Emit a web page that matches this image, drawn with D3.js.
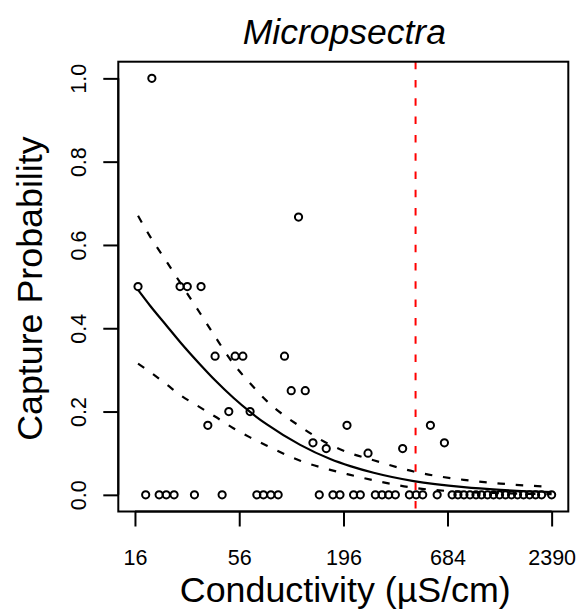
<!DOCTYPE html>
<html>
<head>
<meta charset="utf-8">
<script src="https://cdn.jsdelivr.net/npm/d3@7"></script>
<style>
  html, body { margin: 0; padding: 0; background: #ffffff; }
  svg { display: block; }
  text { font-family: "Liberation Sans", Arial, Helvetica, sans-serif; fill: #000; }
</style>
</head>
<body>
<svg id="chart" width="582" height="610"></svg>
<script>
// ---- data ----
const titleText = "Micropsectra";
const xLabel = "Conductivity (\u00B5S/cm)";
const yLabel = "Capture Probability";

const xTickValues = [16, 56, 196, 684, 2390];
const xTickLabels = ["16", "56", "196", "684", "2390"];
const yTickValues = [0, 0.2, 0.4, 0.6, 0.8, 1.0];
const yTickLabels = ["0.0", "0.2", "0.4", "0.6", "0.8", "1.0"];

// observed sites: conductivity and capture probability
const siteConductivity = [
  16.6, 19.6, 27.5, 30.0, 35.4, 38.4, 41.9, 49.4, 53.3, 58.5, 63.8,
  96.5, 104.6, 114.2, 123.8, 135.8, 159.3, 204.4, 263.2, 399, 557, 659,
  18.2, 21.4, 23.3, 25.6, 32.7, 45.6, 69.2, 74.9, 81.9, 89.4,
  146.5, 172.7, 187.9, 221.3, 239.9, 287.4, 311.5, 337.3, 365.6,
  432.6, 469.0, 507.7, 604, 723, 775, 833, 896, 963, 1029, 1106,
  1189, 1278, 1373, 1476, 1587, 1706, 1834, 1971, 2118, 2390
];
const captureProb = [
  0.5, 1.0, 0.5, 0.5, 0.5, 0.167, 0.333, 0.2, 0.333, 0.333, 0.2,
  0.333, 0.25, 0.667, 0.25, 0.125, 0.111, 0.167, 0.1, 0.111, 0.167, 0.125,
  0, 0, 0, 0, 0, 0, 0, 0, 0, 0,
  0, 0, 0, 0, 0, 0, 0, 0, 0,
  0, 0, 0, 0, 0, 0, 0, 0, 0, 0, 0,
  0, 0, 0, 0, 0, 0, 0, 0, 0, 0
];

// fitted curve and confidence band
const curveConductivity = [16.6, 19.2, 23.4, 27.5, 35.0, 41.9, 52.2, 63.8, 78.1, 116.5, 167.2, 212.7, 281.5, 455.5, 831.6, 1293, 2390];
const fitProb   = [0.492, 0.454, 0.406, 0.367, 0.313, 0.275, 0.233, 0.199, 0.169, 0.120, 0.086, 0.069, 0.053, 0.033, 0.0185, 0.012, 0.0065];
const upperProb = [0.670, 0.620, 0.560, 0.510, 0.436, 0.380, 0.315, 0.268, 0.225, 0.164, 0.120, 0.100, 0.083, 0.056, 0.036, 0.027, 0.019];
const lowerProb = [0.315, 0.295, 0.265, 0.240, 0.210, 0.188, 0.160, 0.138, 0.118, 0.082, 0.060, 0.048, 0.035, 0.017, 0.007, 0.004, 0.0015];

// threshold marker
const thresholdConductivity = 466;

// ---- drawing ----
const svg = d3.select("#chart");
const box = { left: 118.3, right: 568.3, top: 61.7, bottom: 511.5 };

const dataMin = d3.min(xTickValues), dataMax = d3.max(xTickValues);
const pad = Math.pow(dataMax / dataMin, 0.04);
const x = d3.scaleLog().domain([dataMin / pad, dataMax * pad]).range([box.left, box.right]);
const y = d3.scaleLinear().domain([-0.04, 1.04]).range([box.bottom, box.top]);

svg.append("defs").append("clipPath").attr("id", "plotclip")
  .append("rect").attr("x", box.left).attr("y", box.top)
  .attr("width", box.right - box.left).attr("height", box.bottom - box.top);

const plot = svg.append("g").attr("clip-path", "url(#plotclip)");

const curvePts = (vals) => curveConductivity.map((c, i) => [c, vals[i]]);
const line = d3.line().x(d => x(d[0])).y(d => y(d[1])).curve(d3.curveMonotoneX);

// threshold line
plot.append("line")
  .attr("x1", x(thresholdConductivity)).attr("x2", x(thresholdConductivity))
  .attr("y1", box.top).attr("y2", box.bottom)
  .attr("stroke", "#ff0000").attr("stroke-width", 2)
  .attr("stroke-dasharray", "7.5,10.8");

// points
plot.append("g").selectAll("circle")
  .data(siteConductivity.map((c, i) => [c, captureProb[i]]))
  .join("circle")
  .attr("cx", d => x(d[0])).attr("cy", d => y(d[1]))
  .attr("r", 3.6)
  .attr("fill", "none").attr("stroke", "#000").attr("stroke-width", 2);

// fit + band
plot.append("path").attr("d", line(curvePts(fitProb)))
  .attr("fill", "none").attr("stroke", "#000").attr("stroke-width", 2.2);
[upperProb, lowerProb].forEach(v => {
  plot.append("path").attr("d", line(curvePts(v)))
    .attr("fill", "none").attr("stroke", "#000").attr("stroke-width", 2.2)
    .attr("stroke-dasharray", "7.5,10.8");
});

// box
svg.append("rect")
  .attr("x", box.left).attr("y", box.top)
  .attr("width", box.right - box.left).attr("height", box.bottom - box.top)
  .attr("fill", "none").attr("stroke", "#000").attr("stroke-width", 2);

// x axis
const xAxis = d3.axisBottom(x).tickValues(xTickValues)
  .tickFormat((d, i) => xTickLabels[i]).tickSize(15).tickPadding(23);
const gx = svg.append("g").attr("transform", `translate(0,${box.bottom})`).call(xAxis);
gx.select(".domain").attr("d", `M${x(xTickValues[0])},0H${x(xTickValues[xTickValues.length - 1])}`)
  .attr("stroke", "#000").attr("stroke-width", 2);
gx.selectAll(".tick line").attr("stroke", "#000").attr("stroke-width", 2);
gx.selectAll(".tick text").attr("font-size", 21.5).attr("font-family", "Liberation Sans, Arial, sans-serif")
  .attr("fill", "#000");

// y axis
const yAxis = d3.axisLeft(y).tickValues(yTickValues)
  .tickFormat((d, i) => yTickLabels[i]).tickSize(15).tickPadding(0);
const gy = svg.append("g").attr("transform", `translate(${box.left},0)`).call(yAxis);
gy.select(".domain").attr("d", `M0,${y(0)}V${y(1)}`)
  .attr("stroke", "#000").attr("stroke-width", 2);
gy.selectAll(".tick line").attr("stroke", "#000").attr("stroke-width", 2);
gy.selectAll(".tick text")
  .attr("font-size", 21.5).attr("font-family", "Liberation Sans, Arial, sans-serif").attr("fill", "#000")
  .attr("x", null).attr("dy", null)
  .attr("text-anchor", "middle")
  .attr("transform", `translate(${86 - box.left},0) rotate(-90)`);

// title
svg.append("text")
  .attr("x", (box.left + box.right) / 2 + 1).attr("y", 44)
  .attr("text-anchor", "middle").attr("font-size", 35.5).attr("font-style", "italic")
  .text(titleText);

// axis titles
svg.append("text")
  .attr("x", (box.left + box.right) / 2 + 2).attr("y", 602)
  .attr("text-anchor", "middle").attr("font-size", 35.8)
  .text(xLabel);

svg.append("text")
  .attr("transform", `translate(42,${(box.top + box.bottom) / 2 + 2}) rotate(-90)`)
  .attr("text-anchor", "middle").attr("font-size", 35.8)
  .text(yLabel);
</script>
</body>
</html>
